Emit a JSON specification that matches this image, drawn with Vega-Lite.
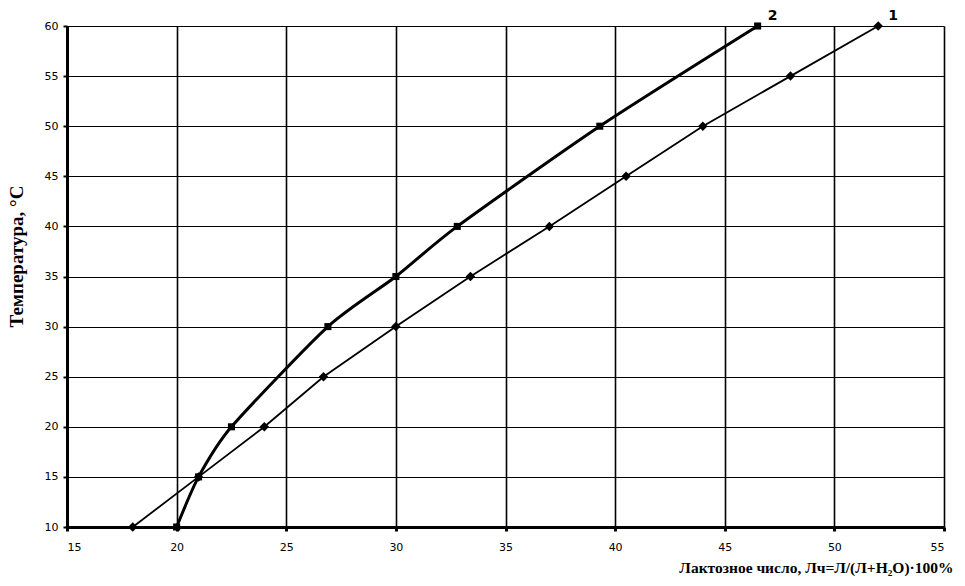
{
  "$schema": "https://vega.github.io/schema/vega-lite/v6.json",
  "width": 877,
  "height": 501,
  "autosize": "none",
  "padding": {"left": 67, "top": 26, "right": 21, "bottom": 59},
  "background": "white",
  "config": {"view": {"stroke": null}},
  "datasets": {
    "pts": [
      {"s": "1", "x": 18.0, "y": 10},
      {"s": "1", "x": 21.0, "y": 15},
      {"s": "1", "x": 24.0, "y": 20},
      {"s": "1", "x": 26.7, "y": 25},
      {"s": "1", "x": 30.0, "y": 30},
      {"s": "1", "x": 33.4, "y": 35},
      {"s": "1", "x": 37.0, "y": 40},
      {"s": "1", "x": 40.5, "y": 45},
      {"s": "1", "x": 44.0, "y": 50},
      {"s": "1", "x": 48.0, "y": 55},
      {"s": "1", "x": 52.0, "y": 60},
      {"s": "2", "x": 20.0, "y": 10},
      {"s": "2", "x": 21.0, "y": 15},
      {"s": "2", "x": 22.5, "y": 20},
      {"s": "2", "x": 26.9, "y": 30},
      {"s": "2", "x": 30.0, "y": 35},
      {"s": "2", "x": 32.8, "y": 40},
      {"s": "2", "x": 39.3, "y": 50},
      {"s": "2", "x": 46.5, "y": 60}
    ],
    "labels": [
      {"s": "1", "x": 52.0, "y": 60},
      {"s": "2", "x": 46.5, "y": 60}
    ]
  },
  "encoding": {
    "x": {
      "field": "x", "type": "quantitative",
      "scale": {"domain": [15, 55], "nice": false, "zero": false},
      "axis": {
        "values": [15, 20, 25, 30, 35, 40, 45, 50, 55],
        "title": "Лактозное число, Лч=Л/(Л+H₂O)·100%",
        "titleFont": "Liberation Serif", "titleFontSize": 15.5, "titleFontWeight": "bold",
        "titleColor": "black", "titleAnchor": "end", "titleAlign": "right", "titleX": 886, "titleY": 45, "titleBaseline": "alphabetic",
        "labelFont": "DejaVu Sans", "labelFontSize": 11, "labelColor": "black", "labelPadding": 10,
        "domainColor": "black", "domainWidth": 3,
        "tickColor": "black", "tickWidth": 3, "tickSize": 4,
        "grid": true, "gridColor": "black", "gridWidth": 1.6, "gridOpacity": 1
      }
    },
    "y": {
      "field": "y", "type": "quantitative",
      "scale": {"domain": [10, 60], "nice": false, "zero": false},
      "axis": {
        "values": [10, 15, 20, 25, 30, 35, 40, 45, 50, 55, 60],
        "title": "Температура, °C",
        "titleFont": "Liberation Serif", "titleFontSize": 19, "titleFontWeight": "bold",
        "titleColor": "black", "titlePadding": 18, "titleY": 230,
        "labelFont": "DejaVu Sans", "labelFontSize": 11, "labelColor": "black", "labelPadding": 5,
        "domainColor": "black", "domainWidth": 3,
        "tickColor": "black", "tickWidth": 2, "tickSize": 4,
        "grid": true, "gridColor": "black", "gridWidth": 1, "gridOpacity": 1
      }
    }
  },
  "layer": [
    {
      "data": {"name": "pts"},
      "transform": [{"filter": "datum.s === '1'"}],
      "mark": {"type": "line", "color": "black", "strokeWidth": 1.8, "interpolate": "linear"},
      "encoding": {}
    },
    {
      "data": {"name": "pts"},
      "transform": [{"filter": "datum.s === '2'"}],
      "mark": {"type": "line", "color": "black", "strokeWidth": 3, "interpolate": "cardinal", "tension": 0.3},
      "encoding": {}
    },
    {
      "data": {"name": "pts"},
      "mark": {"type": "point", "filled": true, "color": "black", "opacity": 1},
      "encoding": {
        "shape": {"field": "s", "type": "nominal", "scale": {"domain": ["1", "2"], "range": ["diamond", "square"]}, "legend": null},
        "size": {"field": "s", "type": "nominal", "scale": {"domain": ["1", "2"], "range": [90, 50]}, "legend": null}
      }
    },
    {
      "data": {"name": "labels"},
      "mark": {"type": "text", "font": "DejaVu Sans", "fontSize": 14, "fontWeight": "bold", "color": "black", "dx": 15, "dy": -10, "align": "center", "baseline": "middle"},
      "encoding": {"text": {"field": "s"}}
    }
  ]
}
